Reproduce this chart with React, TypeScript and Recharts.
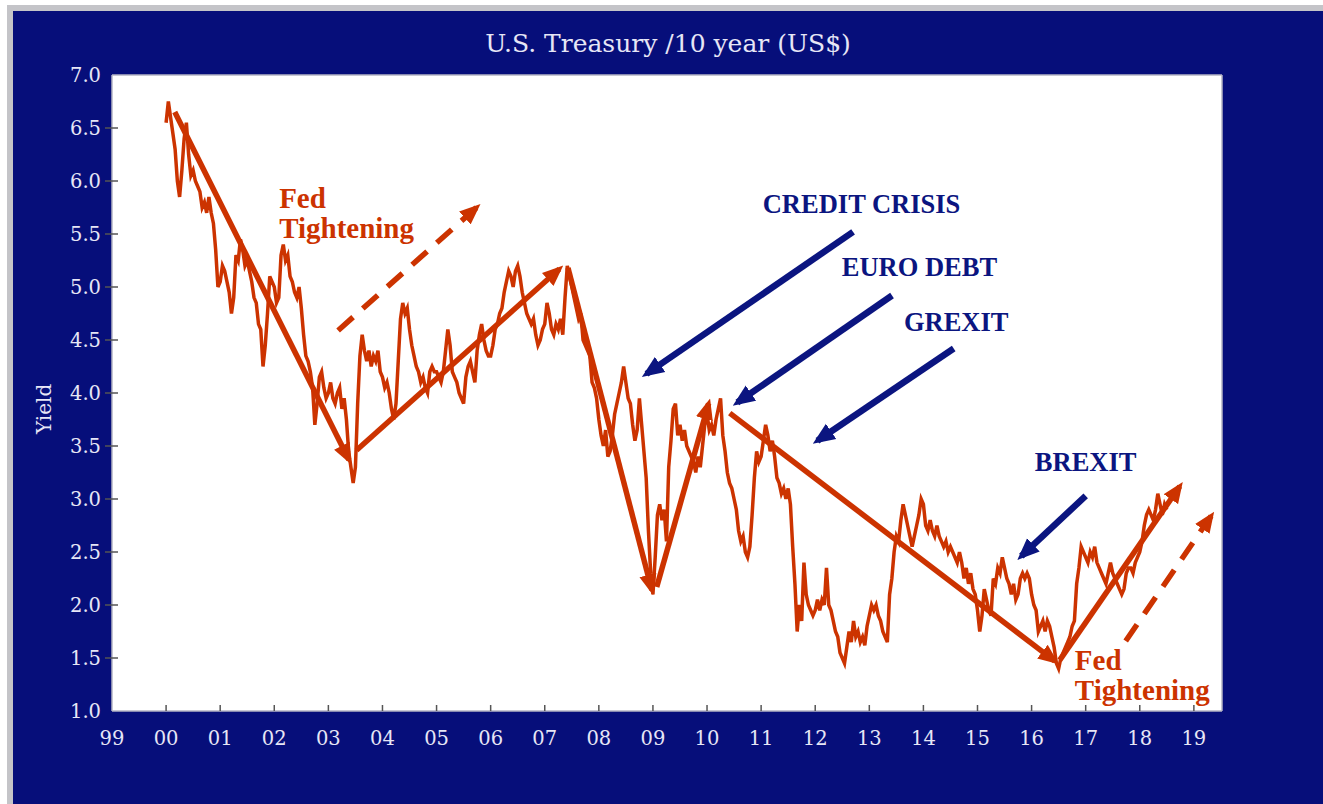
import { LineChart, Line, XAxis, YAxis, CartesianGrid, ReferenceLine, ReferenceDot } from 'recharts';

// 10 year US Treasury yield, two readings per month
const y2000 = [6.55, 6.75, 6.6, 6.45, 6.3, 6.0, 5.85, 6.1, 6.4, 6.55, 6.25, 6.05, 6.1, 6.0, 5.95, 5.9, 5.75, 5.8, 5.7, 5.85, 5.7, 5.6, 5.35, 5.0];
const y2001 = [5.05, 5.2, 5.15, 5.05, 4.95, 4.75, 4.9, 5.3, 5.25, 5.45, 5.35, 5.2, 5.25, 5.15, 5.05, 4.9, 4.85, 4.65, 4.6, 4.25, 4.45, 4.75, 5.1, 5.05];
const y2002 = [5.0, 4.85, 4.9, 5.3, 5.4, 5.25, 5.3, 5.1, 5.05, 4.95, 4.9, 5.0, 4.8, 4.55, 4.35, 4.3, 4.2, 4.05, 3.7, 3.9, 4.15, 4.2, 4.05, 3.95];
const y2003 = [4.0, 4.1, 3.95, 3.9, 4.0, 4.05, 3.85, 3.95, 3.75, 3.45, 3.3, 3.15, 3.3, 3.9, 4.35, 4.55, 4.4, 4.3, 4.4, 4.25, 4.35, 4.3, 4.4, 4.2];
const y2004 = [4.15, 4.05, 4.1, 4.0, 3.85, 3.75, 3.9, 4.3, 4.7, 4.85, 4.75, 4.8, 4.6, 4.45, 4.35, 4.25, 4.2, 4.1, 4.15, 4.05, 4.0, 4.2, 4.25, 4.2];
const y2005 = [4.2, 4.15, 4.1, 4.2, 4.4, 4.6, 4.45, 4.2, 4.15, 4.1, 4.0, 3.95, 3.9, 4.15, 4.25, 4.3, 4.2, 4.1, 4.4, 4.55, 4.65, 4.5, 4.4, 4.35];
const y2006 = [4.35, 4.45, 4.6, 4.65, 4.75, 4.8, 4.95, 5.05, 5.15, 5.1, 5.0, 5.15, 5.2, 5.1, 4.95, 4.85, 4.75, 4.7, 4.65, 4.7, 4.55, 4.45, 4.5, 4.6];
const y2007 = [4.65, 4.85, 4.75, 4.6, 4.55, 4.65, 4.6, 4.7, 4.55, 4.9, 5.2, 5.1, 5.0, 4.9, 4.8, 4.7, 4.75, 4.5, 4.45, 4.4, 4.35, 4.1, 4.05, 3.95];
const y2008 = [3.75, 3.6, 3.5, 3.65, 3.4, 3.45, 3.6, 3.8, 3.9, 4.0, 4.1, 4.25, 4.1, 3.95, 3.9, 3.7, 3.55, 3.65, 3.95, 3.7, 3.45, 3.2, 2.7, 2.3];
const y2009 = [2.1, 2.45, 2.85, 2.95, 2.8, 2.9, 2.6, 3.3, 3.55, 3.85, 3.9, 3.6, 3.7, 3.55, 3.65, 3.5, 3.45, 3.4, 3.35, 3.25, 3.4, 3.3, 3.5, 3.7];
const y2010 = [3.8, 3.65, 3.7, 3.6, 3.75, 3.85, 3.95, 3.6, 3.45, 3.25, 3.15, 3.1, 3.0, 2.9, 2.7, 2.6, 2.65, 2.5, 2.45, 2.55, 2.85, 3.2, 3.45, 3.35];
const y2011 = [3.4, 3.55, 3.7, 3.6, 3.45, 3.55, 3.4, 3.2, 3.15, 3.05, 3.1, 3.0, 3.1, 2.95, 2.55, 2.2, 1.75, 2.0, 1.85, 2.4, 2.1, 2.0, 1.95, 1.9];
const y2012 = [1.95, 2.05, 1.95, 2.05, 2.0, 2.35, 2.0, 1.95, 1.85, 1.75, 1.7, 1.55, 1.5, 1.45, 1.6, 1.75, 1.65, 1.85, 1.7, 1.75, 1.65, 1.7, 1.62, 1.8];
const y2013 = [1.9, 2.0, 1.95, 2.0, 1.9, 1.85, 1.75, 1.7, 1.65, 2.1, 2.25, 2.5, 2.65, 2.6, 2.8, 2.95, 2.85, 2.75, 2.65, 2.55, 2.65, 2.75, 2.85, 3.0];
const y2014 = [2.95, 2.75, 2.7, 2.8, 2.7, 2.65, 2.75, 2.65, 2.6, 2.55, 2.6, 2.5, 2.55, 2.5, 2.45, 2.4, 2.5, 2.4, 2.25, 2.35, 2.2, 2.3, 2.15, 2.1];
const y2015 = [1.95, 1.75, 1.9, 2.15, 2.05, 1.95, 1.9, 2.25, 2.2, 2.35, 2.3, 2.45, 2.35, 2.25, 2.2, 2.1, 2.2, 2.05, 2.1, 2.25, 2.3, 2.25, 2.3, 2.25];
const y2016 = [2.1, 2.0, 1.95, 1.75, 1.8, 1.85, 1.75, 1.85, 1.8, 1.7, 1.6, 1.45, 1.4, 1.5, 1.55, 1.6, 1.65, 1.7, 1.8, 1.85, 2.2, 2.35, 2.55, 2.5];
const y2017 = [2.45, 2.4, 2.5, 2.45, 2.55, 2.4, 2.35, 2.3, 2.25, 2.2, 2.3, 2.4, 2.3, 2.25, 2.2, 2.15, 2.1, 2.15, 2.3, 2.35, 2.35, 2.3, 2.4, 2.45];
const y2018 = [2.5, 2.6, 2.75, 2.85, 2.9, 2.85, 2.8, 2.9, 3.05, 2.95, 2.85, 2.95, 2.9];

const years: [number, number[]][] = [
  [2000, y2000], [2001, y2001], [2002, y2002], [2003, y2003], [2004, y2004],
  [2005, y2005], [2006, y2006], [2007, y2007], [2008, y2008], [2009, y2009],
  [2010, y2010], [2011, y2011], [2012, y2012], [2013, y2013], [2014, y2014],
  [2015, y2015], [2016, y2016], [2017, y2017], [2018, y2018],
];

const xTicks = [1999, 2000, 2001, 2002, 2003, 2004, 2005, 2006, 2007, 2008, 2009, 2010, 2011, 2012, 2013, 2014, 2015, 2016, 2017, 2018, 2019];
const yTicks = [1, 1.5, 2, 2.5, 3, 3.5, 4, 4.5, 5, 5.5, 6, 6.5, 7];
const xMax = 2019.52;

// trend arrows drawn on the chart, in (year, yield)
const solidArrows = [
  [[2000.16, 6.65], [2003.38, 3.37]],
  [[2003.52, 3.46], [2007.27, 5.17]],
  [[2007.43, 5.18], [2008.98, 2.14]],
  [[2009.07, 2.17], [2010.03, 3.9]],
  [[2010.42, 3.81], [2016.43, 1.47]],
  [[2016.52, 1.48], [2018.74, 3.12]],
];
const dashedArrows = [
  [[2003.18, 4.59], [2005.74, 5.75]],
  [[2017.74, 1.66], [2019.32, 2.84]],
];
const eventArrows = [
  [[2012.7, 5.52], [2008.88, 4.18]],
  [[2013.42, 4.92], [2010.56, 3.91]],
  [[2014.56, 4.42], [2012.04, 3.55]],
  [[2017.0, 3.03], [2015.81, 2.46]],
];
const eventLabels: [string, number, number][] = [
  ['CREDIT CRISIS', 2011.03, 5.7],
  ['EURO DEBT', 2012.49, 5.1],
  ['GREXIT', 2013.64, 4.585],
  ['BREXIT', 2016.06, 3.26],
];
const fedLabels: [number, number][] = [
  [2002.09, 5.745],
  [2016.8, 1.387],
];

const data = years.flatMap(([yr, vals]) => vals.map((v, i) => ({ t: yr + i / 24, y: v })));

const NAVY = '#060e7a';
const ORANGE = '#cc3300';
const INK = '#0b1580';
const PALE = '#e6e6f6';

const XTick = ({ x, y, payload }: any) => (
  <g>
    {payload.value > 1999 && <line x1={x} x2={x} y1={y - 6} y2={y} stroke="#555" strokeWidth={1.5} />}
    <text x={x} y={y + 34} textAnchor="middle" fill={PALE} fontSize={19.5} fontFamily="DejaVu Serif">
      {String(payload.value % 100).padStart(2, '0')}
    </text>
  </g>
);

const YTick = ({ x, y, payload }: any) => (
  <g>
    {payload.value > 1 && payload.value < 7 && <line x1={x - 7} x2={x + 6} y1={y} y2={y} stroke="#555" strokeWidth={1.5} />}
    <text x={x - 11} y={y} dy={7} textAnchor="end" fill={PALE} fontSize={19.5} fontFamily="DejaVu Serif">
      {payload.value.toFixed(1)}
    </text>
  </g>
);

const YieldLabel = ({ viewBox }: any) => {
  const cx = viewBox.x + 44;
  const cy = viewBox.y + viewBox.height * 0.525;
  return (
    <text x={cx} y={cy} transform={`rotate(-90 ${cx} ${cy})`} textAnchor="middle" dy={7} fill={PALE} fontSize={20} fontFamily="DejaVu Serif">
      Yield
    </text>
  );
};

const EventText = (text: string) => (p: any) => (
  <text x={p.viewBox.x} y={p.viewBox.y} fill={INK} fontSize={26.5} fontWeight="bold" fontFamily="Liberation Serif">
    {text}
  </text>
);

const FedText = (p: any) => (
  <text x={p.viewBox.x} y={p.viewBox.y} fill={ORANGE} fontSize={29} fontWeight="bold" fontFamily="Liberation Serif">
    <tspan x={p.viewBox.x}>Fed</tspan>
    <tspan x={p.viewBox.x} dy={30}>Tightening</tspan>
  </text>
);

const seg = (a: number[][]) => [{ x: a[0][0], y: a[0][1] }, { x: a[1][0], y: a[1][1] }];

export default function App() {
  return (
    <div style={{ position: 'absolute', left: 0, top: 0, width: 1323, height: 804, background: '#fff', overflow: 'hidden' }}>
      <svg width={0} height={0} style={{ position: 'absolute' }}>
        <defs>
          <marker id="headOrange" viewBox="0 0 12 10" refX={9} refY={5} markerWidth={3.8} markerHeight={3.2} orient="auto" markerUnits="strokeWidth">
            <path d="M0,0 L12,5 L0,10 z" fill={ORANGE} />
          </marker>
          <marker id="headNavy" viewBox="0 0 12 10" refX={9} refY={5} markerWidth={3.4} markerHeight={3.0} orient="auto" markerUnits="strokeWidth">
            <path d="M0,0 L12,5 L0,10 z" fill={INK} />
          </marker>
        </defs>
      </svg>
      <div style={{ position: 'absolute', left: 7, top: 5, right: 0, bottom: 0, background: '#c4c4c8' }} />
      <div style={{ position: 'absolute', left: 13, top: 11, right: 0, bottom: 0, background: NAVY }} />
      <div style={{ position: 'absolute', left: 13, width: 1310, top: 30, textAlign: 'center', color: PALE, fontFamily: 'DejaVu Serif', fontSize: 25, lineHeight: '28px' }}>
        U.S. Treasury /10 year (US$)
      </div>
      <div style={{ position: 'absolute', left: 0, top: 0 }}>
        <LineChart width={1323} height={804} data={data} margin={{ top: 75, right: 101, left: 0, bottom: 0 }}>
          <CartesianGrid fill="#ffffff" horizontal={false} vertical={false} />
          <XAxis
            dataKey="t"
            type="number"
            domain={[1999, xMax]}
            ticks={xTicks}
            interval={0}
            allowDataOverflow
            height={93}
            tickSize={0}
            tickMargin={0}
            axisLine={{ stroke: '#b4b4c4', strokeWidth: 1.5 }}
            tick={<XTick />}
          />
          <YAxis
            type="number"
            domain={[1, 7]}
            ticks={yTicks}
            interval={0}
            allowDataOverflow
            width={112}
            tickSize={0}
            tickMargin={0}
            axisLine={{ stroke: '#b4b4c4', strokeWidth: 1.5 }}
            tick={<YTick />}
            label={<YieldLabel />}
          />
          <ReferenceLine y={7} stroke="#b4b4c4" strokeWidth={1.5} />
          <ReferenceLine x={xMax} stroke="#b4b4c4" strokeWidth={1.5} />
          <Line type="linear" dataKey="y" stroke={ORANGE} strokeWidth={3.5} dot={false} isAnimationActive={false} />
          {solidArrows.map((a, i) => (
            <ReferenceLine key={`s${i}`} segment={seg(a)} stroke={ORANGE} strokeWidth={5.5} markerEnd="url(#headOrange)" />
          ))}
          {dashedArrows.map((a, i) => (
            <ReferenceLine key={`d${i}`} segment={seg(a)} stroke={ORANGE} strokeWidth={5.5} strokeDasharray="20 13" markerEnd="url(#headOrange)" />
          ))}
          {eventArrows.map((a, i) => (
            <ReferenceLine key={`e${i}`} segment={seg(a)} stroke={INK} strokeWidth={6.5} markerEnd="url(#headNavy)" />
          ))}
          {eventLabels.map(([text, x, y]) => (
            <ReferenceDot key={text} x={x} y={y} r={0} fill="none" stroke="none" label={EventText(text)} />
          ))}
          {fedLabels.map(([x, y]) => (
            <ReferenceDot key={`f${x}`} x={x} y={y} r={0} fill="none" stroke="none" label={FedText} />
          ))}
        </LineChart>
      </div>
    </div>
  );
}
